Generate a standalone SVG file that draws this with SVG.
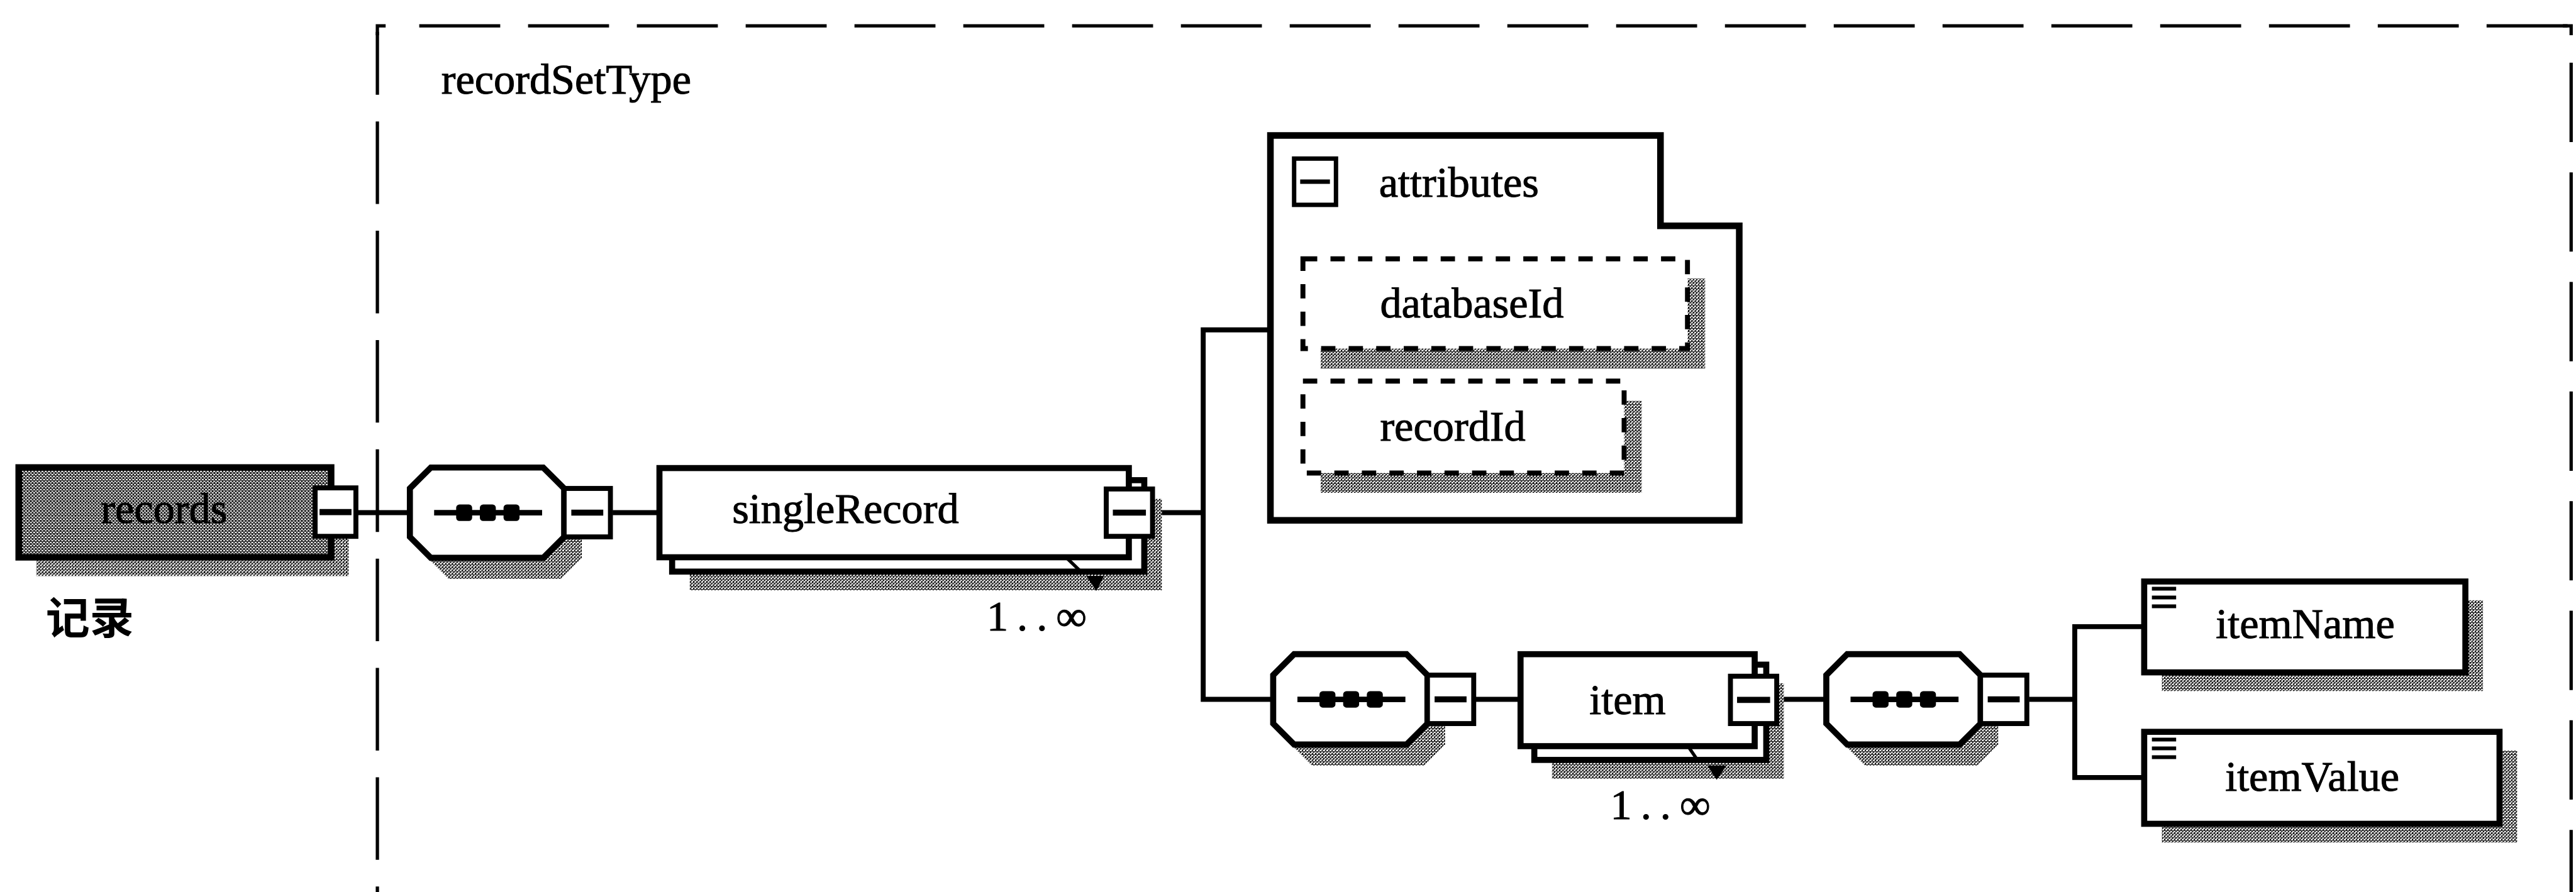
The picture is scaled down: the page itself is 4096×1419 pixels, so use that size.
<svg xmlns="http://www.w3.org/2000/svg" width="4096" height="1419" viewBox="0 0 4096 1419">
  <style>
    .ln{fill:none;stroke:#000;stroke-width:9}
    .box{fill:#fff;stroke:#000;stroke-width:11}
    .sq{fill:#fff;stroke:#000;stroke-width:9}
    .minus{stroke:#000;stroke-width:11}
    .dash{fill:#fff;stroke:#000;stroke-width:9;stroke-dasharray:26 24}
    .shadow{fill:url(#hatch)}
    .t{font-family:"Liberation Serif","Times New Roman",serif;font-size:78px;fill:#000;stroke:#000;stroke-width:1.2}
    .border{fill:none;stroke:#000;stroke-width:6}
    .icon{stroke:#000;stroke-width:7}
  </style>
  <defs>
    <!-- dithered drop shadow -->
    <pattern id="hatch" width="6" height="6" patternUnits="userSpaceOnUse">
      <rect width="6" height="6" fill="#000"/>
      <path d="M0 0h4v2H0zM3 3h3v2H3zM0 3h1v2H0zM2 5h2v1H2z" fill="#fff"/>
    </pattern>
    <!-- darker dither for the global element -->
    <pattern id="dither" width="6" height="6" patternUnits="userSpaceOnUse">
      <rect width="6" height="6" fill="#000"/>
      <path d="M0 0h4v2H0zM3 3h3v2H3zM0 3h1v2H0z" fill="#fff"/>
    </pattern>
    <!-- sequence compositor: octagon with dotted line, plus collapse box -->
    <g id="seq">
      <polygon class="shadow" points="32,76 70,38 274,38 312,76 312,164 274,202 70,202 32,164"/>
      <polygon class="box" points="0,38 38,0 242,0 280,38 280,126 242,164 38,164 0,126"/>
      <line x1="44" y1="82" x2="240" y2="82" stroke="#000" stroke-width="10"/>
      <rect x="84" y="67" width="29" height="30" rx="6" fill="#000"/>
      <rect x="127" y="67" width="29" height="30" rx="6" fill="#000"/>
      <rect x="170" y="67" width="29" height="30" rx="6" fill="#000"/>
      <rect class="sq" x="280" y="38" width="84" height="88"/>
      <line class="minus" x1="293" y1="82" x2="351" y2="82"/>
    </g>
  </defs>

  <rect width="4096" height="1419" fill="#fff"/>

  <g transform="scale(0.876)">
    <!-- complex type frame -->
    <g id="recordSetType">
      <path class="border" d="M685 64 V47 H700"/>
      <line class="border" x1="685" y1="58" x2="685" y2="1625" stroke-dasharray="150 48.5" stroke-dashoffset="36"/>
      <line class="border" x1="761" y1="47" x2="4667" y2="47" stroke-dasharray="147 50.5"/>
      <path class="border" d="M4652 47 H4667 V64"/>
      <line class="border" x1="4667" y1="114" x2="4667" y2="1625" stroke-dasharray="144 55"/>
      <text class="t" x="801" y="170">recordSetType</text>
    </g>

    <!-- connectors -->
    <g id="connectors" class="ln">
      <path d="M646 931 H744"/>
      <path d="M1112 931 H1197"/>
      <path d="M2096 931 H2184"/>
      <path d="M2306 599 H2184 V1270 H2311"/>
      <path d="M2679 1270 H2760"/>
      <path d="M3229 1270 H3315"/>
      <path d="M3683 1270 H3766"/>
      <path d="M3892 1138 H3766 V1412 H3892"/>
    </g>

    <!-- global element -->
    <g id="records">
      <rect class="shadow" x="66" y="883" width="567" height="163"/>
      <rect x="34" y="849" width="567" height="163" fill="url(#dither)" stroke="#000" stroke-width="12"/>
      <text class="t" x="183" y="950">records</text>
      <rect class="sq" x="572" y="886" width="74" height="88"/>
      <line class="minus" x1="580" y1="930" x2="638" y2="930"/>
      <text x="83" y="1152" font-family="'Noto Sans CJK SC',sans-serif" font-weight="700" font-size="80">记录</text>
    </g>

    <g id="seq1"><use href="#seq" x="744" y="849"/></g>

    <g id="singleRecord">
      <rect class="shadow" x="1252" y="906" width="857" height="166"/>
      <rect class="box" x="1220" y="872" width="857" height="166"/>
      <path d="M1935 1012 L1962 1038" stroke="#000" stroke-width="6"/>
      <polygon points="1972,1046 2004,1046 1990,1073" fill="#000"/>
      <rect class="box" x="1197" y="850" width="852" height="162"/>
      <text class="t" x="1329" y="950">singleRecord</text>
      <rect class="sq" x="2008" y="888" width="84" height="86"/>
      <line class="minus" x1="2020" y1="931" x2="2080" y2="931"/>
      <text class="t" x="1791" y="1145" letter-spacing="16">1..∞</text>
    </g>

    <g id="attributes">
      <path d="M2306 246 H3014 V410 H3157 V945 H2306 Z" fill="#fff" stroke="#000" stroke-width="12"/>
      <rect x="2349" y="288" width="76" height="84" fill="#fff" stroke="#000" stroke-width="8"/>
      <line x1="2360" y1="330" x2="2414" y2="330" stroke="#000" stroke-width="8"/>
      <text class="t" x="2503" y="357">attributes</text>
      <g id="databaseId">
        <rect class="shadow" x="2397" y="506" width="698" height="163"/>
        <rect class="dash" x="2365" y="470" width="698" height="163"/>
        <text class="t" x="2505" y="576">databaseId</text>
      </g>
      <g id="recordId">
        <rect class="shadow" x="2397" y="728" width="583" height="167"/>
        <rect class="dash" x="2365" y="692" width="583" height="167"/>
        <text class="t" x="2505" y="800">recordId</text>
      </g>
    </g>

    <g id="seq2"><use href="#seq" x="2311" y="1188"/></g>

    <g id="item">
      <rect class="shadow" x="2817" y="1241" width="421" height="173"/>
      <rect class="box" x="2785" y="1207" width="421" height="173"/>
      <path d="M3064 1355 L3081 1380" stroke="#000" stroke-width="6"/>
      <polygon points="3099,1390 3134,1390 3116,1416" fill="#000"/>
      <rect class="box" x="2760" y="1188" width="425" height="167"/>
      <text class="t" x="2885" y="1297">item</text>
      <rect class="sq" x="3141" y="1228" width="84" height="86"/>
      <line class="minus" x1="3153" y1="1271" x2="3213" y2="1271"/>
      <text class="t" x="2923" y="1487" letter-spacing="16">1..∞</text>
    </g>

    <g id="seq3"><use href="#seq" x="3315" y="1188"/></g>

    <g id="itemName">
      <rect class="shadow" x="3924" y="1090" width="583" height="165"/>
      <rect class="box" x="3892" y="1056" width="583" height="165"/>
      <path class="icon" d="M3906 1069 h44 M3906 1085 h44 M3906 1101 h44"/>
      <text class="t" x="4022" y="1159">itemName</text>
    </g>

    <g id="itemValue">
      <rect class="shadow" x="3924" y="1363" width="645" height="167"/>
      <rect class="box" x="3892" y="1329" width="645" height="167"/>
      <path class="icon" d="M3906 1343 h44 M3906 1359 h44 M3906 1375 h44"/>
      <text class="t" x="4039" y="1436">itemValue</text>
    </g>
  </g>
</svg>
